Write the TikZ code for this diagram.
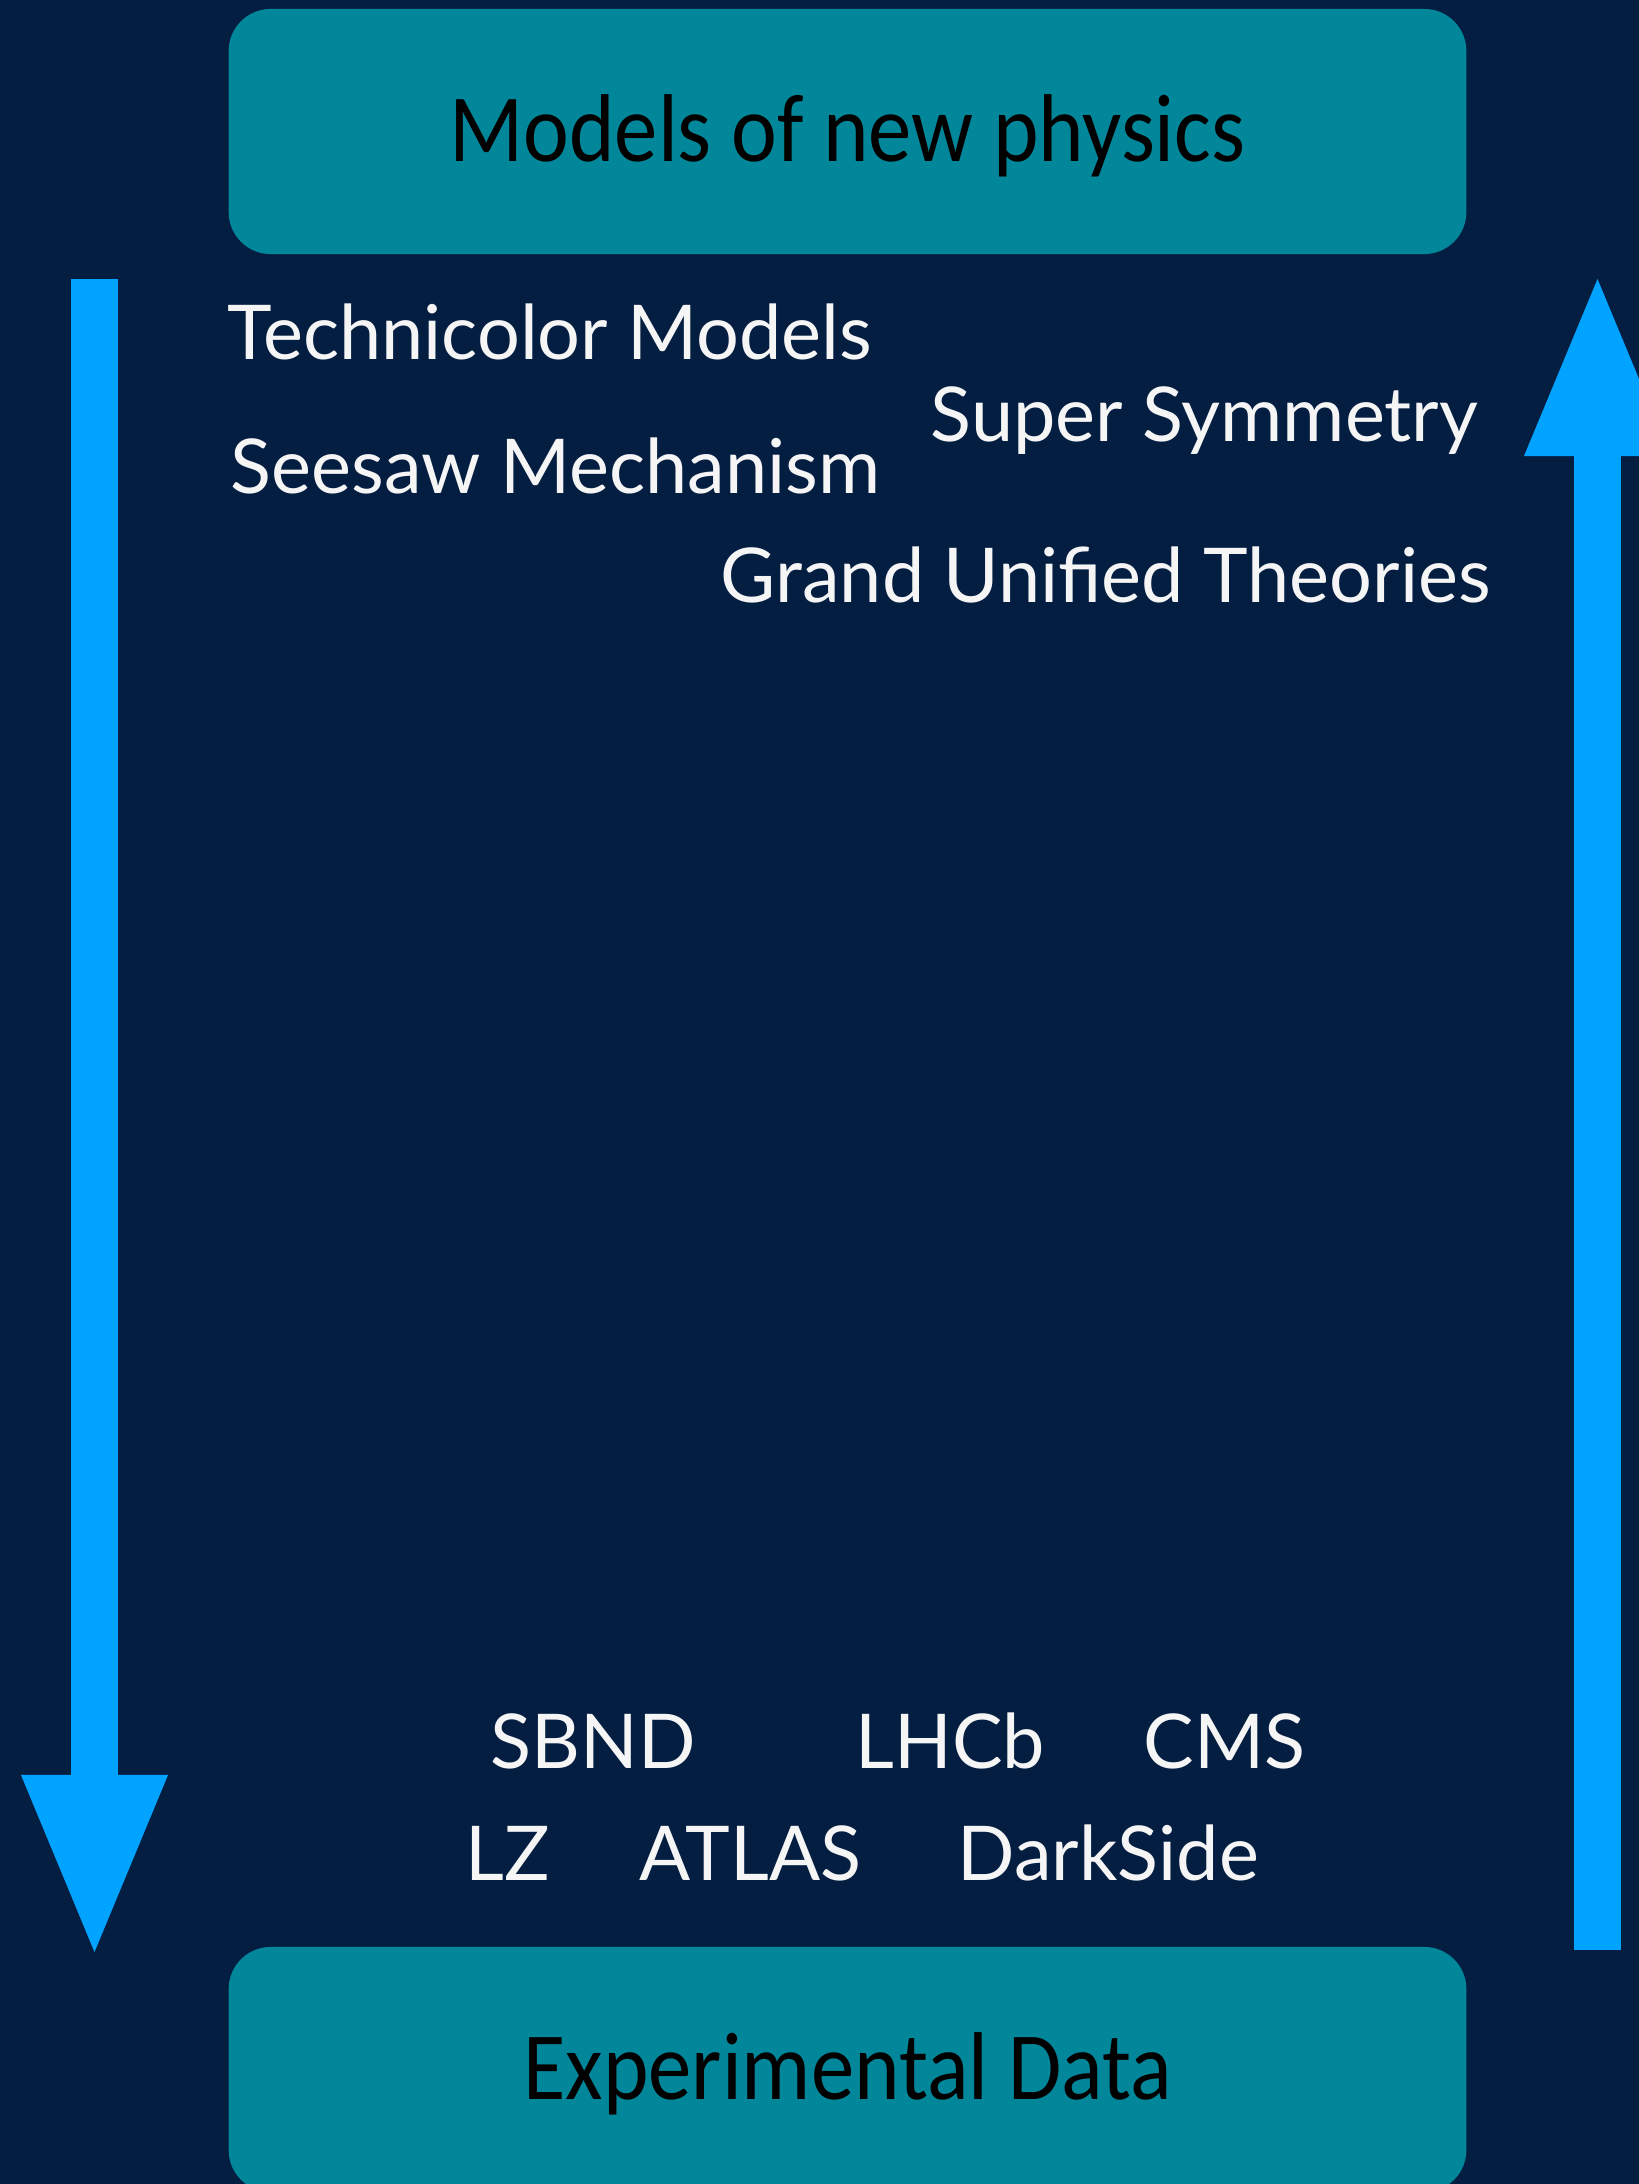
\documentclass[tikz,border=0pt]{standalone}
\usepackage{fontspec}
\setmainfont{Lato}
\newfontfamily\boxfont[FakeStretch=0.9]{Carlito}
\usetikzlibrary{positioning,arrows.meta}
\definecolor{physBg}{RGB}{4,30,66}
\definecolor{physTeal}{RGB}{2,134,154}
\definecolor{physArrow}{RGB}{0,163,255}
\definecolor{physText}{RGB}{245,245,245}

\begin{document}
\begin{tikzpicture}[x=0.01cm,y=-0.01cm,
    titlebox/.style={fill=physTeal,rounded corners=0.42cm,minimum width=12.37cm,
      minimum height=2.45cm,text height=0.6cm,text depth=0pt,
      font=\boxfont\fontsize{27.4}{32}\selectfont,text=black},
    modeltext/.style={anchor=base west,inner sep=0pt,text=physText,
      font=\fontsize{21.5}{26}\selectfont},
    flowarrow/.style={physArrow,line width=0.47cm,
      -{Triangle[length=1.77cm,width=1.47cm,line width=0pt]}}]
    \fill[physBg] (0,0) rectangle (1639,2184);
    \useasboundingbox (0,0) rectangle (1639,2184);
    % boxes
    \node[titlebox] (models) at (847.5,131.5) {Models of new physics};
    \node[titlebox] (data) at (847.5,2069.5) {Experimental Data};
    % theory names
    \node[modeltext] (techni) at (227,359) {Technicolor Models};
    \node[modeltext] (seesaw) at (230,493) {Seesaw Mechanism};
    \node[modeltext] (susy) at (930,441) {Super Symmetry};
    \node[modeltext] (gut) at (720,602) {Grand Unified Theories};
    % experiments
    \foreach \nm/\x/\y/\txt in {sbnd/490/1768/SBND,lhcb/855/1768/LHCb,
                               cms/1143/1768/CMS,lz/465/1880/LZ,
                               atlas/639/1880/ATLAS,darkside/957/1880/DarkSide}
      {\node[modeltext] (\nm) at (\x,\y) {\txt};}
    % arrows
    \coordinate (downstart) at (94.5,279);
    \coordinate (downend) at (94.5,1952);
    \coordinate (upstart) at (1597.5,1950);
    \coordinate (upend) at (1597.5,279);
    \draw[flowarrow] (downstart) -- (downend);
    \draw[flowarrow] (upstart) -- (upend);
  \end{tikzpicture}
\end{document}
